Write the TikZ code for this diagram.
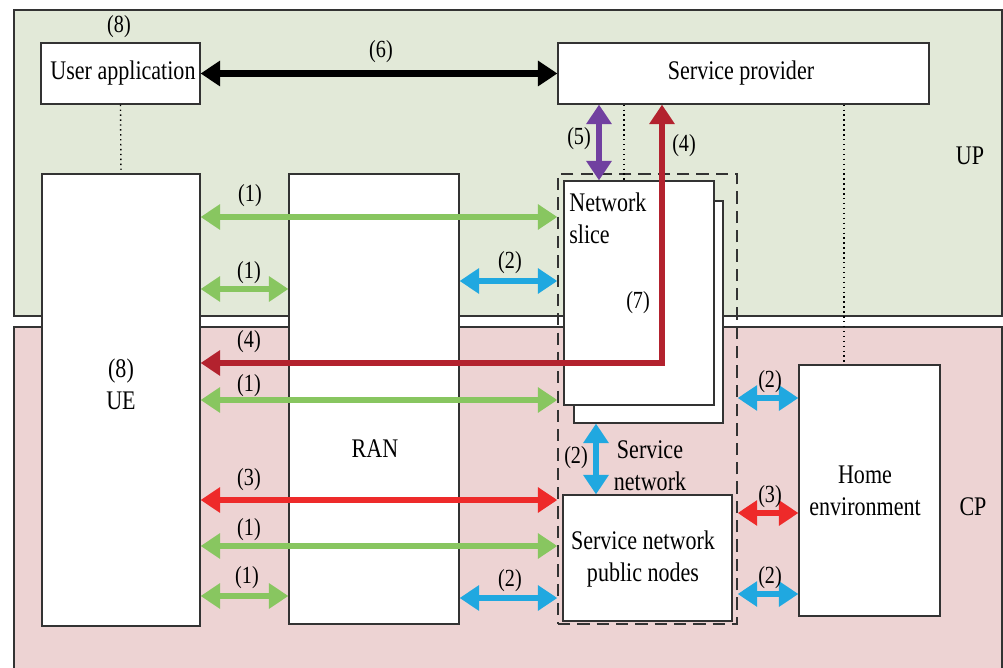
\documentclass[tikz,border=0pt]{standalone}
\usepackage{fontspec}
\setmainfont[FakeStretch=0.82]{Liberation Serif}
\usetikzlibrary{arrows.meta}
\definecolor{upbg}{HTML}{E2E9D8}
\definecolor{cpbg}{HTML}{EDD3D3}
\definecolor{gr}{HTML}{88C660}
\definecolor{bl}{HTML}{20A8E0}
\definecolor{pu}{HTML}{7140A0}
\definecolor{dr}{HTML}{B3222E}
\definecolor{br}{HTML}{EE2A2A}
\definecolor{bd}{HTML}{333333}
\tikzset{
  box/.style={draw=bd, line width=0.7pt, fill=white, inner sep=0pt},
  txt/.style={font=\fontsize{15.3pt}{18pt}\selectfont, inner sep=0pt, align=center},
  lbl/.style={font=\fontsize{14pt}{16pt}\selectfont, inner sep=0pt},
  dtip/.style={{Triangle[length=0.39cm,width=0.49cm]}-{Triangle[length=0.39cm,width=0.49cm]}},
  garr/.style={dtip, draw=gr, line width=3.3pt},
  barr/.style={dtip, draw=bl, line width=3.3pt},
  rarr/.style={dtip, draw=br, line width=3.5pt},
  dot/.style={draw=black, dotted, line width=0.8pt},
}
\begin{document}
\begin{tikzpicture}[x=0.02cm,y=-0.02cm]
\useasboundingbox (0,0) rectangle (1003,668);
% regions
\fill[upbg] (14,10) rectangle (1002,316);
\draw[bd, line width=0.8pt] (14,316) -- (14,10) -- (1002,10) -- (1002,316) -- cycle;
\fill[cpbg] (14,327) rectangle (1002,668);
\draw[bd, line width=0.8pt] (14,668) -- (14,327) -- (1002,327) -- (1002,668);
\node[txt] (up) at (970,156) {UP};
\node[txt] (cp) at (973,507) {CP};
% boxes
\node[box, minimum width=3.18cm, minimum height=1.22cm] (ua) at (120.5,73.5) {};
\node[txt] at (123,73.5) {User application};
\node[box, minimum width=7.42cm, minimum height=1.22cm] (sp) at (743.5,73.5) {};
\node[txt] at (741,73.5) {Service provider};
\node[box, minimum width=3.16cm, minimum height=9.04cm] (ue) at (121,400) {};
\node[txt] at (121,384) {(8)\\UE};
\node[box, minimum width=3.40cm, minimum height=9.00cm] (ran) at (374,399) {};
\node[txt] at (375,449) {RAN};
\node[draw=bd, line width=0.8pt, dash pattern=on 7pt off 4pt, minimum width=3.58cm, minimum height=9.00cm, inner sep=0pt] (snet) at (647.5,399) {};
\node[box, minimum width=2.98cm, minimum height=4.44cm] (nsb) at (648.5,312) {};
\node[box, minimum width=3.00cm, minimum height=4.48cm] (ns) at (639,293) {};
\node[txt, align=left, anchor=north west] at (569,193) {Network\\slice};
\node[lbl] at (638,303) {(7)};
\node[box, minimum width=3.38cm, minimum height=2.52cm] (snpn) at (647.5,558) {};
\node[txt] at (643,559) {Service network\\public nodes};
\node[txt] at (650,466) {Service\\network};
\node[box, minimum width=2.82cm, minimum height=5.02cm] (home) at (869.5,490.5) {};
\node[txt] at (865,491) {Home\\environment};
\node[lbl] (l8) at (119,27) {(8)};
% dotted lines
\draw[dot] (ua.south) -- (ue.north);
\draw[dot] (624,0 |- sp.south) -- (624,0 |- ns.north);
\draw[dot] (844,0 |- sp.south) -- (844,0 |- home.north);
% (6)
\draw[dtip, draw=black, line width=4pt] (ua.east) -- (sp.west);
\node[lbl] at (381,52) {(6)};
% (5)
\draw[dtip, draw=pu, line width=3.4pt] (599,0 |- sp.south) -- (599,0 |- ns.north);
\node[lbl] at (579,139) {(5)};
% green (1)
\draw[garr] (ue.east |- 0,217) -- (snet.west |- 0,217);
\node[lbl] at (250,196) {(1)};
\draw[garr] (ue.east |- 0,289) -- (ran.west |- 0,289);
\node[lbl] at (249,273) {(1)};
\draw[garr] (ue.east |- 0,400) -- (snet.west |- 0,400);
\node[lbl] at (249,386) {(1)};
\draw[garr] (ue.east |- 0,546) -- (snet.west |- 0,546);
\node[lbl] at (249,530) {(1)};
\draw[garr] (ue.east |- 0,596) -- (ran.west |- 0,596);
\node[lbl] at (247,578) {(1)};
% red (3)
\draw[rarr] (ue.east |- 0,500) -- (snet.west |- 0,500);
\node[lbl] at (249,480) {(3)};
\draw[rarr] (snet.east |- 0,513) -- (home.west |- 0,513);
\node[lbl] at (770,497) {(3)};
% blue (2)
\draw[barr] (ran.east |- 0,281) -- (snet.west |- 0,281);
\node[lbl] at (510,263) {(2)};
\draw[barr] (ran.east |- 0,598) -- (snet.west |- 0,598);
\node[lbl] at (510,581) {(2)};
\draw[barr] (596,0 |- nsb.south) -- (596,0 |- snpn.north);
\node[lbl] at (576,458) {(2)};
\draw[barr] (snet.east |- 0,398) -- (home.west |- 0,398);
\node[lbl] at (770,382) {(2)};
\draw[barr] (snet.east |- 0,594) -- (home.west |- 0,594);
\node[lbl] at (770,578) {(2)};
% (4)
\coordinate (c4) at (662,363);
\draw[dtip, draw=dr, line width=3pt, line join=miter] (ue.east |- c4) -- (c4) -- (c4 |- sp.south);
\node[lbl] at (249,342) {(4)};
\node[lbl] at (684,146) {(4)};
\end{tikzpicture}
\end{document}
